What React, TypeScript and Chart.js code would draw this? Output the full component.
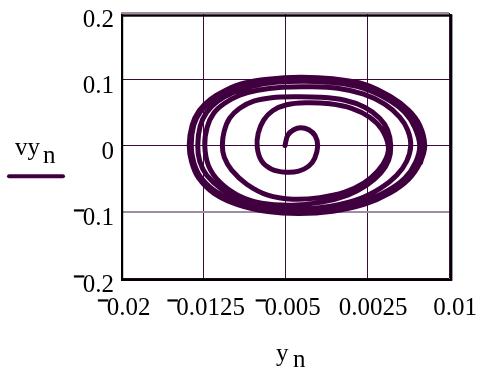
import React, { useEffect, useRef } from "react";
import { Chart, registerables } from "chart.js";

Chart.register(...registerables);

// y_n (position) and vy_n (velocity) read along the phase trajectory
const yn: number[] = [
  -0.005, -0.00475, -0.0042, -0.00356, -0.00283, -0.00224, -0.00201,
  -0.00228, -0.00283, -0.00375, -0.00494, -0.00622, -0.00713, -0.00754,
  -0.00745, -0.00695, -0.00613, -0.00485, -0.00311, -0.00091, 0.0011, 0.00275, 0.00384, 0.00444,
  0.00426, 0.00348, 0.0022, 0.00046, -0.00183, -0.0043, -0.00658, -0.0085, -0.00988, -0.01056, -0.01073,
  -0.01056, -0.01006, -0.00914, -0.00786, -0.00622, -0.00411, -0.00183, 0.00046, 0.00229, 0.00366, 0.00439, 0.00467,
  0.00448, 0.00375, 0.00247, 0.00074, -0.00164, -0.0043, -0.00713, -0.00933, -0.01097, -0.01198, -0.01234,
  -0.01212, -0.01152, -0.01052, -0.00914, -0.0075, -0.0053, -0.00274, -0.00018, 0.0022, 0.00412, 0.00549, 0.00622, 0.0065,
  0.00613, 0.00522, 0.00375, 0.00174, -0.00082, -0.00366, -0.0064, -0.00887, -0.01079, -0.01216, -0.0128, -0.01298,
  -0.01276, -0.01216, -0.01116, -0.00978, -0.00805, -0.00585, -0.00311, -0.00036, 0.0022, 0.00439, 0.00595, 0.00686, 0.00732,
  0.00695, 0.00595, 0.0043, 0.00211, -0.00064, -0.00366, -0.00658, -0.00914, -0.01125, -0.01271, -0.01335, -0.01358,
  -0.01335, -0.01271, -0.0117, -0.01033, -0.00869, -0.00658, -0.00366, -0.00064, 0.0022, 0.00458, 0.00622, 0.00723, 0.00778,
  0.00732, 0.00631, 0.00458, 0.00229, -0.00064, -0.00366, -0.00658, -0.00933, -0.01152, -0.01289, -0.01353, -0.01376,
  -0.01349, -0.01285, -0.0118, -0.01042, -0.00878, -0.00658, -0.00366, -0.00064, 0.00229, 0.00467, 0.00631, 0.00732, 0.00778,
  0.0074,
];

const vyn: number[] = [
  0, 0.0155, 0.0238, 0.0268, 0.0238, 0.0148, -0.0003,
  -0.0192, -0.0312, -0.0388, -0.0403, -0.0357, -0.0237, -0.0026,
  0.0185, 0.0382, 0.0525, 0.0615, 0.0645, 0.063, 0.0562, 0.0427, 0.0246, 0,
  -0.0192, -0.0388, -0.0569, -0.0704, -0.0787, -0.081, -0.0749, -0.0584, -0.0372, -0.0176, 0,
  0.0216, 0.0412, 0.0562, 0.0668, 0.0721, 0.0736, 0.0728, 0.0683, 0.0578, 0.0412, 0.0231, 0,
  -0.0222, -0.0418, -0.0599, -0.0749, -0.0855, -0.09, -0.087, -0.0749, -0.0553, -0.0312, 0,
  0.0276, 0.0487, 0.0638, 0.0759, 0.0834, 0.0879, 0.0887, 0.0864, 0.0774, 0.0623, 0.0427, 0.0231, 0,
  -0.0237, -0.0448, -0.0644, -0.081, -0.0915, -0.0961, -0.093, -0.0825, -0.0659, -0.0448, -0.0237, 0,
  0.0291, 0.0502, 0.0668, 0.0796, 0.0894, 0.0955, 0.097, 0.0947, 0.0864, 0.0698, 0.0502, 0.0276, 0,
  -0.0252, -0.0493, -0.0689, -0.0855, -0.0961, -0.1006, -0.0976, -0.087, -0.0704, -0.0478, -0.0252, 0,
  0.0306, 0.0517, 0.0683, 0.0819, 0.0924, 0.0985, 0.1015, 0.0992, 0.0909, 0.0728, 0.0532, 0.0306, 0,
  -0.0267, -0.0508, -0.0719, -0.0885, -0.0991, -0.1028, -0.0998, -0.0893, -0.0719, -0.0493, -0.0252, 0,
  0.0306, 0.0525, 0.0698, 0.0834, 0.0939, 0.1, 0.103, 0.1007, 0.0924, 0.0736, 0.0532, 0.0306, 0,
  -0.026,
];

const xTickValues: number[] = [-0.02, -0.0125, -0.005, 0.0025, 0.01];
const xTickLabels: string[] = ["−0.02", "−0.0125", "−0.005", "0.0025", "0.01"];
const yTickValues: number[] = [0.2, 0.1, 0, -0.1, -0.2];
const yTickLabels: string[] = ["0.2", "0.1", "0", "−0.1", "−0.2"];
const yFaintGrid: number[] = [0.2, -0.1];
const xTitle: [string, string] = ["y", "n"];
const yTitle: [string, string] = ["vy", "n"];

const TRACE = "#400040";
const GRID = "#3a0a3a";
const GRID_FAINT = "#a48aa4";
const FONT = '25px "Liberation Serif", "Times New Roman", serif';
const MINUS_FONT = '20px "Liberation Serif", "Times New Roman", serif';

function labelWidth(ctx: CanvasRenderingContext2D, text: string): number {
  ctx.font = FONT;
  if (text.startsWith("−")) {
    return 10 + ctx.measureText(text.slice(1)).width;
  }
  return ctx.measureText(text).width;
}

function drawLabel(ctx: CanvasRenderingContext2D, text: string, left: number, baseline: number) {
  ctx.textAlign = "left";
  ctx.textBaseline = "alphabetic";
  ctx.fillStyle = "#000";
  if (text.startsWith("−")) {
    ctx.font = MINUS_FONT;
    ctx.strokeStyle = "#000";
    ctx.lineWidth = 1.2;
    ctx.fillText("−", left + 0.8, baseline - 8.4);
    ctx.strokeText("−", left + 0.8, baseline - 8.4);
    ctx.font = FONT;
    ctx.fillText(text.slice(1), left + 10, baseline);
  } else {
    ctx.font = FONT;
    ctx.fillText(text, left, baseline);
  }
}

const overlay = {
  id: "mathcadOverlay",
  afterDraw(chart: any) {
    const ctx: CanvasRenderingContext2D = chart.ctx;
    const xs = chart.scales.x;
    const ys = chart.scales.y;
    const area = chart.chartArea;
    ctx.save();
    // frame
    ctx.fillStyle = "#000";
    ctx.fillRect(area.left, area.top + 1.3, area.right - area.left + 3, 2.4);
    ctx.fillRect(area.left, area.top + 1.3, 2.2, area.bottom - area.top + 1.5);
    ctx.fillRect(area.right + 1, area.top + 1.3, 2.4, area.bottom - area.top + 1.5);
    ctx.fillRect(area.left, area.bottom + 0.5, area.right - area.left + 3, 2.5);

    // y tick labels
    yTickValues.forEach((v, i) => {
      const py = ys.getPixelForValue(v);
      const t = yTickLabels[i];
      const w = labelWidth(ctx, t);
      drawLabel(ctx, t, area.left - 7 - w, py + 13.5);
    });
    // x tick labels
    xTickValues.forEach((v, i) => {
      const px = xs.getPixelForValue(v);
      const t = xTickLabels[i];
      const w = labelWidth(ctx, t);
      const off = t.startsWith("−") ? 2.5 : 6;
      drawLabel(ctx, t, px + off - w / 2, area.bottom + 37);
    });

    // y-axis title with subscript and legend line
    ctx.fillStyle = "#000";
    ctx.font = FONT;
    ctx.textAlign = "left";
    ctx.fillText(yTitle[0], 15, 154.5);
    ctx.fillText(yTitle[1], 43, 163);
    ctx.strokeStyle = TRACE;
    ctx.lineWidth = 4;
    ctx.lineCap = "round";
    ctx.beginPath();
    ctx.moveTo(9, 176.3);
    ctx.lineTo(63, 176.3);
    ctx.stroke();

    // x-axis title with subscript
    ctx.fillStyle = "#000";
    ctx.font = FONT;
    ctx.fillText(xTitle[0], 276, 361);
    ctx.fillText(xTitle[1], 293, 367);
    ctx.restore();
  },
};

export default function App() {
  const canvasRef = useRef<HTMLCanvasElement | null>(null);

  useEffect(() => {
    const canvas = canvasRef.current;
    if (!canvas) return;
    const points = yn.map((x, i) => ({ x, y: vyn[i] }));
    const chart = new Chart(canvas, {
      type: "scatter",
      data: {
        datasets: [
          {
            data: points,
            showLine: true,
            borderColor: TRACE,
            backgroundColor: TRACE,
            borderWidth: 5,
            pointRadius: 0,
            tension: 0.35,
            borderJoinStyle: "round",
            borderCapStyle: "round",
            fill: false,
          } as any,
        ],
      },
      options: {
        responsive: false,
        animation: false,
        devicePixelRatio: 1,
        events: [],
        layout: { padding: { left: 0, top: 13, right: 30, bottom: 0 } },
        plugins: { legend: { display: false }, tooltip: { enabled: false } },
        scales: {
          x: {
            type: "linear",
            min: -0.02,
            max: 0.01,
            afterBuildTicks: (s: any) => {
              s.ticks = xTickValues.map((value) => ({ value }));
            },
            ticks: { display: false },
            grid: { color: GRID, lineWidth: 1, drawTicks: false, tickLength: 0 },
            border: { display: false },
            afterFit: (s: any) => {
              s.height = 93;
            },
          },
          y: {
            type: "linear",
            min: -0.2,
            max: 0.2,
            afterBuildTicks: (s: any) => {
              s.ticks = yTickValues.map((value) => ({ value }));
            },
            ticks: { display: false },
            grid: {
              color: (c: any) => (c.tick && yFaintGrid.includes(c.tick.value) ? GRID_FAINT : GRID),
              lineWidth: (c: any) => (c.tick && yFaintGrid.includes(c.tick.value) ? 2 : 1),
              drawTicks: false,
              tickLength: 0,
            },
            border: { display: false },
            afterFit: (s: any) => {
              s.width = 121;
            },
          },
        },
      } as any,
      plugins: [overlay],
    });
    return () => chart.destroy();
  }, []);

  return (
    <div
      style={{
        position: "fixed",
        left: 0,
        top: 0,
        width: 479,
        height: 371,
        background: "#fff",
      }}
    >
      <canvas ref={canvasRef} width={479} height={371} style={{ display: "block" }} />
    </div>
  );
}
